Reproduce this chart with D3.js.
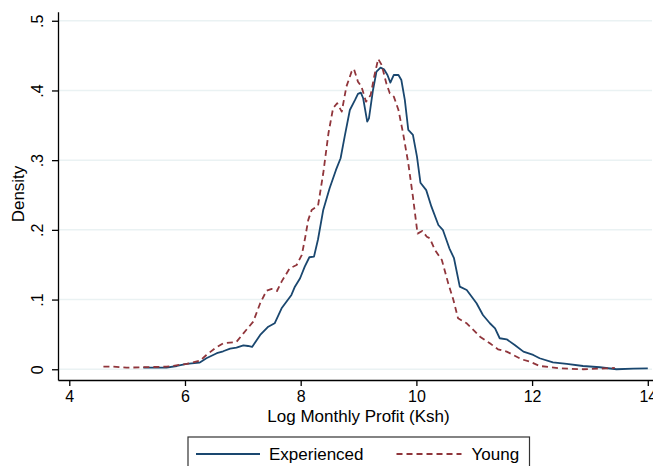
<!DOCTYPE html>
<html>
<head>
<meta charset="utf-8">
<script src="https://cdn.jsdelivr.net/npm/d3@7"></script>
<style>
  body { margin: 0; background: #fff; }
  svg { display: block; font-family: "Liberation Sans", Arial, Helvetica, sans-serif; }
</style>
</head>
<body>
<svg id="chart" width="653" height="466"></svg>
<script>
// Kernel density estimates of log monthly profit, by group
const xTicks = [4, 6, 8, 10, 12, 14];
const yTicks = [0, 0.1, 0.2, 0.3, 0.4, 0.5];
const yTickLabels = ["0", ".1", ".2", ".3", ".4", ".5"];
const seriesNames = ["Experienced", "Young"];

const experienced = [
  [5.28,0.0023],[5.68,0.0023],[5.86,0.0047],[6.03,0.0076],[6.25,0.0095],[6.37,0.0158],
  [6.55,0.023],[6.66,0.0258],[6.78,0.0296],[6.89,0.031],[7.01,0.0344],[7.09,0.0334],
  [7.16,0.032],[7.30,0.0492],[7.44,0.0611],[7.55,0.066],[7.67,0.0875],[7.84,0.1066],
  [7.90,0.1185],[7.99,0.1306],[8.07,0.1472],[8.15,0.1607],[8.23,0.1616],[8.30,0.1865],
  [8.39,0.2286],[8.50,0.2597],[8.61,0.286],[8.69,0.3027],[8.76,0.3337],[8.85,0.372],
  [8.94,0.3864],[8.99,0.395],[9.04,0.3968],[9.08,0.3888],[9.15,0.3552],[9.18,0.360],
  [9.25,0.4007],[9.31,0.427],[9.38,0.4327],[9.44,0.4304],[9.50,0.4222],[9.55,0.4112],
  [9.61,0.4222],[9.69,0.4222],[9.74,0.415],[9.80,0.3864],[9.86,0.3433],[9.94,0.3362],
  [10.01,0.305],[10.07,0.2677],[10.17,0.257],[10.26,0.2333],[10.38,0.207],[10.46,0.1995],
  [10.57,0.1736],[10.65,0.1593],[10.75,0.1185],[10.87,0.1138],[11.04,0.0947],[11.15,0.0779],
  [11.27,0.066],[11.36,0.0588],[11.44,0.0445],[11.56,0.043],[11.70,0.0349],[11.85,0.0253],
  [12.02,0.0205],[12.13,0.0158],[12.36,0.010],[12.60,0.0076],[12.88,0.0047],[13.17,0.0029],
  [13.46,0.0],[13.75,0.0009],[14.0,0.0014]
];

const young = [
  [4.59,0.0037],[4.76,0.0037],[4.99,0.0023],[5.30,0.003],[5.68,0.0037],[6.03,0.0076],
  [6.26,0.0123],[6.37,0.0205],[6.52,0.0301],[6.66,0.0373],[6.89,0.0392],[7.01,0.0516],
  [7.18,0.0683],[7.30,0.0947],[7.41,0.1128],[7.50,0.1152],[7.59,0.1123],[7.67,0.1257],
  [7.81,0.1449],[7.93,0.1496],[8.02,0.164],[8.08,0.19],[8.13,0.214],[8.19,0.2286],
  [8.30,0.2347],[8.39,0.2812],[8.48,0.3386],[8.56,0.3745],[8.63,0.3816],[8.71,0.3696],
  [8.79,0.4055],[8.88,0.427],[8.92,0.4308],[8.99,0.4126],[9.05,0.4055],[9.13,0.3839],
  [9.21,0.3935],[9.27,0.4198],[9.34,0.4452],[9.40,0.4366],[9.48,0.4103],[9.54,0.396],
  [9.61,0.3911],[9.69,0.372],[9.77,0.3386],[9.86,0.2956],[9.94,0.2476],[10.02,0.1946],
  [10.10,0.1985],[10.18,0.1902],[10.23,0.188],[10.32,0.1712],[10.44,0.1568],[10.55,0.1234],
  [10.64,0.0994],[10.72,0.0732],[10.87,0.066],[11.10,0.0468],[11.27,0.0373],[11.41,0.0287],
  [11.56,0.0253],[11.82,0.0143],[11.96,0.0109],[12.13,0.0047],[12.48,0.0014],[12.88,0.0],
  [13.29,0.0014],[13.43,0.002]
];

const colors = { Experienced: "#1a476f", Young: "#90353b" };

const svg = d3.select("#chart");
const tickFont = 16;
const titleFont = 17;

// Scales: axis lines run slightly past the first/last ticks
const x = d3.scaleLinear().domain([3.805, 14.09]).range([58, 653]);
const y = d3.scaleLinear().domain([-0.0154, 0.513]).range([380, 11.7]);

// Horizontal grid lines
svg.append("g")
  .selectAll("line")
  .data(yTicks)
  .join("line")
  .attr("x1", 59).attr("x2", 652)
  .attr("y1", d => y(d)).attr("y2", d => y(d))
  .attr("stroke", "#eaf2f3")
  .attr("stroke-width", 1.5);

// Density curves
const line = d3.line().x(d => x(d[0])).y(d => y(d[1]));

svg.append("path")
  .datum(experienced)
  .attr("d", line)
  .attr("fill", "none")
  .attr("stroke", colors.Experienced)
  .attr("stroke-width", 1.8)
  .attr("stroke-linejoin", "round");

svg.append("path")
  .datum(young)
  .attr("d", line)
  .attr("fill", "none")
  .attr("stroke", colors.Young)
  .attr("stroke-width", 1.8)
  .attr("stroke-dasharray", "6,4")
  .attr("stroke-linejoin", "round");

// Y axis
const yAxis = svg.append("g")
  .attr("transform", "translate(58,0)")
  .call(d3.axisLeft(y).tickValues(yTicks).tickSize(6).tickSizeOuter(0)
    .tickFormat((d, i) => yTickLabels[i]));
yAxis.select(".domain").attr("stroke", "#000").attr("stroke-width", 1.3);
yAxis.selectAll(".tick line").attr("stroke", "#000").attr("stroke-width", 1.3);
yAxis.selectAll(".tick text")
  .attr("font-size", tickFont)
  .attr("font-family", null)
  .attr("fill", "#000")
  .attr("x", null).attr("dy", null)
  .attr("text-anchor", "middle")
  .attr("transform", "translate(-15,0) rotate(-90)");

// X axis
const xAxis = svg.append("g")
  .attr("transform", "translate(0,380)")
  .call(d3.axisBottom(x).tickValues(xTicks).tickSize(6).tickSizeOuter(0)
    .tickFormat(d3.format("d")));
xAxis.select(".domain").attr("stroke", "#000").attr("stroke-width", 1.3);
xAxis.selectAll(".tick line").attr("stroke", "#000").attr("stroke-width", 1.3);
xAxis.selectAll(".tick text")
  .attr("font-size", tickFont)
  .attr("font-family", null)
  .attr("fill", "#000")
  .attr("y", 10.5).attr("dy", "0.71em");

// Axis titles
svg.append("text")
  .attr("x", 358.5).attr("y", 421.5)
  .attr("text-anchor", "middle")
  .attr("font-size", titleFont)
  .attr("fill", "#000")
  .text("Log Monthly Profit (Ksh)");

svg.append("text")
  .attr("transform", "translate(23.5,194) rotate(-90)")
  .attr("text-anchor", "middle")
  .attr("font-size", titleFont)
  .attr("fill", "#000")
  .text("Density");

// Legend
const legend = svg.append("g");
legend.append("rect")
  .attr("x", 188).attr("y", 437)
  .attr("width", 341.5).attr("height", 60)
  .attr("fill", "#fff")
  .attr("stroke", "#333")
  .attr("stroke-width", 1.2);

const legendItems = [
  { name: seriesNames[0], x1: 196, x2: 260, tx: 269, dash: null },
  { name: seriesNames[1], x1: 396.5, x2: 461.5, tx: 471.5, dash: "6,4" }
];
legendItems.forEach(it => {
  legend.append("line")
    .attr("x1", it.x1).attr("x2", it.x2)
    .attr("y1", 454).attr("y2", 454)
    .attr("stroke", colors[it.name])
    .attr("stroke-width", 1.8)
    .attr("stroke-dasharray", it.dash);
  legend.append("text")
    .attr("x", it.tx).attr("y", 460)
    .attr("font-size", titleFont)
    .attr("fill", "#000")
    .text(it.name);
});
</script>
</body>
</html>
